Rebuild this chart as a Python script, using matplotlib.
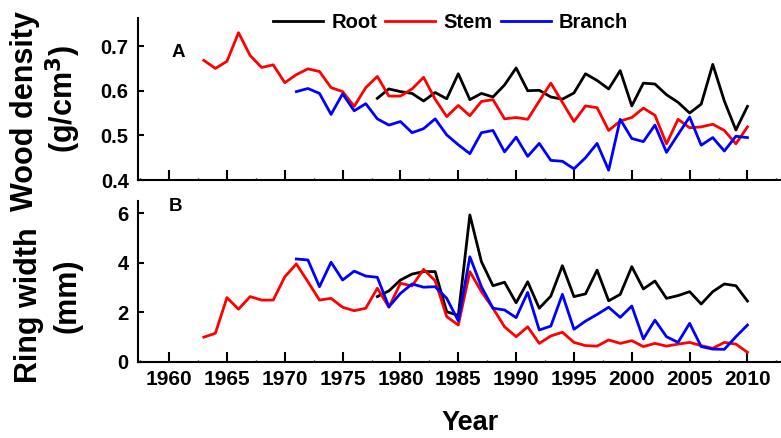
import numpy as np
import matplotlib
matplotlib.use("Agg")
from matplotlib import pyplot as plt
from matplotlib.ticker import MultipleLocator

plt.rcParams['font.family'] = ['Liberation Sans', 'DejaVu Sans']
plt.rcParams['font.weight'] = 'bold'

# wood density (g/cm3)
years_root = np.arange(1978, 2011)
years_stem = np.arange(1963, 2011)
years_branch = np.arange(1971, 2011)

root_density = [0.583, 0.604, 0.598, 0.594, 0.577, 0.596, 0.582, 0.638,
                0.580, 0.594, 0.586, 0.613, 0.651, 0.600, 0.601, 0.586, 0.581,
                0.595, 0.638, 0.623, 0.604, 0.645, 0.566, 0.617, 0.615, 0.591,
                0.574, 0.550, 0.570, 0.659, 0.577, 0.512, 0.565]
stem_density = [0.668, 0.650, 0.666, 0.730, 0.679, 0.652, 0.658, 0.618,
                0.636, 0.649, 0.643, 0.607, 0.598, 0.565, 0.607, 0.632, 0.588,
                0.588, 0.604, 0.630, 0.581, 0.542, 0.567,
                0.544, 0.576, 0.580, 0.537, 0.540, 0.536, 0.577, 0.617, 0.574,
                0.531, 0.566, 0.562, 0.511, 0.532, 0.540, 0.561, 0.545, 0.481,
                0.536, 0.517, 0.519, 0.525, 0.511, 0.481, 0.519]
branch_density = [0.598, 0.605, 0.594, 0.547, 0.593, 0.555, 0.571, 0.537,
                  0.523, 0.531, 0.506, 0.515, 0.537, 0.501, 0.479,
                  0.459, 0.506, 0.511, 0.463, 0.496, 0.453, 0.482, 0.444,
                  0.442, 0.425, 0.450, 0.482, 0.422, 0.536, 0.493, 0.486,
                  0.523, 0.462, 0.502, 0.541, 0.478, 0.495, 0.465, 0.498, 0.495]

# ring width (mm)
root_ring = [2.63, 2.86, 3.30, 3.54, 3.64, 3.64, 2.02, 1.87,
             5.93, 4.04, 3.07, 3.21, 2.38, 3.23, 2.16, 2.65, 3.88, 2.63, 2.74,
             3.70, 2.46, 2.72, 3.84, 2.94, 3.26, 2.56, 2.67, 2.83, 2.33, 2.83,
             3.14, 3.07, 2.45]
stem_ring = [0.99, 1.15, 2.59, 2.12, 2.63, 2.49, 2.49, 3.43, 3.95, 3.23,
             2.49, 2.56, 2.20, 2.06, 2.16, 2.97, 2.20, 3.17, 3.06, 3.73, 3.27,
             1.82, 1.48,
             3.64, 2.83, 2.16, 1.41, 1.01, 1.41, 0.74, 1.04, 1.19, 0.78, 0.65,
             0.63, 0.88, 0.74, 0.85, 0.61, 0.74, 0.63, 0.71, 0.78, 0.65, 0.54,
             0.78, 0.71, 0.38]
branch_ring = [4.15, 4.11, 3.03, 4.02, 3.30, 3.66, 3.46, 3.41, 2.22, 2.76,
               3.14, 3.01, 3.03, 2.56, 1.65,
               4.24, 3.03, 2.16, 2.09, 1.78, 2.80, 1.28, 1.44, 2.72, 1.31,
               1.64, 1.91, 2.20, 1.79, 2.25, 0.92, 1.68, 1.01, 0.78, 1.55,
               0.61, 0.51, 0.50, 1.01, 1.48]

labels = ['Root', 'Stem', 'Branch']
colors = ['black', 'red', 'blue']
year_ticks = np.arange(1960, 2011, 5)

fig = plt.figure(figsize=(7.81, 4.38), dpi=100)
ax1 = fig.add_axes([0.1773, 0.589, 0.8227, 0.369])
ax2 = fig.add_axes([0.1773, 0.1742, 0.8227, 0.3673])

lw = 2.0
ax1.plot(years_root, root_density, color=colors[0], lw=lw, label=labels[0])
ax1.plot(years_stem, stem_density, color=colors[1], lw=lw, label=labels[1])
ax1.plot(years_branch, branch_density, color=colors[2], lw=lw, label=labels[2])

ax2.plot(years_root, root_ring, color=colors[0], lw=lw)
ax2.plot(years_stem, stem_ring, color=colors[1], lw=lw)
ax2.plot(years_branch, branch_ring, color=colors[2], lw=lw)

ax1.set_ylim(0.4, 0.762)
ax1.set_yticks([0.4, 0.5, 0.6, 0.7])
ax1.set_yticklabels(['0.4', '0.5', '0.6', '0.7'])
ax2.set_ylim(0, 6.5)
ax2.set_yticks([0, 2, 4, 6])

for ax in (ax1, ax2):
    ax.set_xlim(1957.35, 2012.9)
    ax.set_xticks(year_ticks)
    ax.xaxis.set_minor_locator(MultipleLocator(2.5))
    for s in ('top', 'right'):
        ax.spines[s].set_visible(False)
    for s in ('left', 'bottom'):
        ax.spines[s].set_linewidth(1.5)
    ax.tick_params(axis='x', which='major', direction='in', length=7, width=1.5)
    ax.tick_params(axis='x', which='minor', direction='in', length=1.5, width=1)
    ax.tick_params(axis='y', direction='in', length=4, width=1.5, pad=7,
                   labelsize=14.5)

ax1.tick_params(axis='x', labelbottom=False)
ax2.set_xticklabels([str(y) for y in year_ticks])
ax2.tick_params(axis='x', which='major', pad=6, labelsize=15)

ax1.text(0.0615, 0.79, 'A', transform=ax1.transAxes, fontsize=13.5,
         fontweight='bold', ha='center', va='center')
ax2.text(0.057, 0.965, 'B', transform=ax2.transAxes, fontsize=13.5,
         fontweight='bold', ha='center', va='center')

ax1.legend(loc='center', bbox_to_anchor=(0.4856, 0.977), ncol=3,
           frameon=False, fontsize=14.5, handlelength=2.5,
           handletextpad=0.4, columnspacing=0.4, borderpad=0)

fig.text(25 / 781, 1 - 111 / 438, 'Wood density', rotation=90,
         ha='center', va='center', fontsize=22, fontweight='bold')
fig.text(63 / 781, 1 - 99 / 438, '(g/cm$^{\\mathbf{3}}$)', rotation=90,
         ha='center', va='center', fontsize=22, fontweight='bold')
fig.text(29 / 781, 1 - 305 / 438, 'Ring width', rotation=90,
         ha='center', va='center', fontsize=22, fontweight='bold')
fig.text(67 / 781, 1 - 296 / 438, '(mm)', rotation=90,
         ha='center', va='center', fontsize=22, fontweight='bold')
fig.text(470 / 781, 1 - 423 / 438, 'Year', ha='center', va='center',
         fontsize=19.5, fontweight='bold')

fig.savefig('out.png', dpi=100)
